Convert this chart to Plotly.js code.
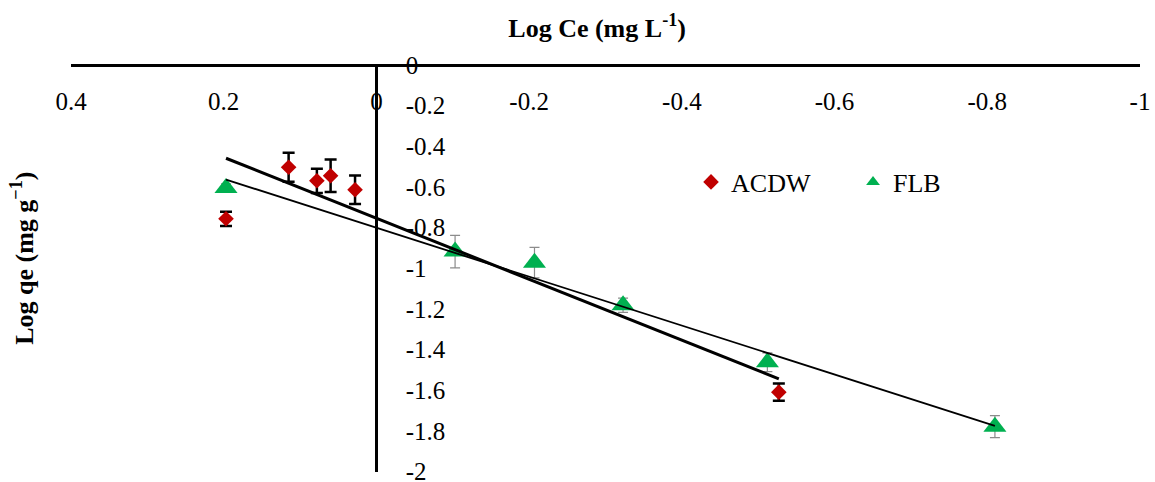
<!DOCTYPE html>
<html>
<head>
<meta charset="utf-8">
<script src="https://cdn.plot.ly/plotly-3.0.1.min.js"></script>
<style>
  html, body { margin: 0; padding: 0; background: #fff; }
  #chart { width: 1155px; height: 482px; }
</style>
</head>
<body>
<div id="chart"></div>
<script>
// Freundlich plot: log qe against log Ce for the two adsorbents
const acdwLogCe = [0.197, 0.115, 0.078, 0.060, 0.028, -0.527];
const acdwLogQe = [-0.757, -0.503, -0.570, -0.545, -0.614, -1.610];
const acdwErr   = [0.035, 0.071, 0.060, 0.080, 0.070, 0.042];

const flbLogCe = [0.197, -0.103, -0.207, -0.323, -0.512, -0.810];
const flbLogQe = [-0.605, -0.918, -0.973, -1.182, -1.463, -1.780];
const flbErr   = [0.020, 0.080, 0.075, 0.035, 0.046, 0.054];

const seriesNames = ['ACDW', 'FLB'];

const xTickVals   = [0.4, 0.2, 0, -0.2, -0.4, -0.6, -0.8, -1];
const xTickLabels = ['0.4', '0.2', '0', '-0.2', '-0.4', '-0.6', '-0.8', '-1'];
const yTickVals   = [0, -0.2, -0.4, -0.6, -0.8, -1, -1.2, -1.4, -1.6, -1.8, -2];
const yTickLabels = ['0', '-0.2', '-0.4', '-0.6', '-0.8', '-1', '-1.2', '-1.4', '-1.6', '-1.8', '-2'];

// least-squares linear trend over the span of the data
function trend(xs, ys) {
  const n = xs.length;
  const mx = xs.reduce((a, b) => a + b, 0) / n;
  const my = ys.reduce((a, b) => a + b, 0) / n;
  let sxy = 0, sxx = 0;
  for (let i = 0; i < n; i++) {
    sxy += (xs[i] - mx) * (ys[i] - my);
    sxx += (xs[i] - mx) * (xs[i] - mx);
  }
  const slope = sxy / sxx;
  const icpt = my - slope * mx;
  const x0 = Math.max(...xs), x1 = Math.min(...xs);
  return { x: [x0, x1], y: [icpt + slope * x0, icpt + slope * x1] };
}

const acdwFit = trend(acdwLogCe, acdwLogQe);
const flbFit = trend(flbLogCe, flbLogQe);

const FONT = 'Liberation Serif, Times New Roman, serif';

const traces = [
  {
    x: acdwLogCe, y: acdwLogQe, name: seriesNames[0], type: 'scatter', mode: 'markers',
    marker: { symbol: 'diamond', size: 12, color: '#C00000' },
    error_y: { type: 'data', array: acdwErr, visible: true, color: '#000000', thickness: 2.5, width: 6 }
  },
  {
    x: flbLogCe, y: flbLogQe, name: seriesNames[1], type: 'scatter', mode: 'markers',
    marker: { symbol: 'triangle-up', size: 20, color: '#00B050' },
    error_y: { type: 'data', array: flbErr, visible: true, color: '#8c8c8c', thickness: 1.2, width: 5 }
  },
  {
    x: acdwFit.x, y: acdwFit.y, type: 'scatter', mode: 'lines', showlegend: false, hoverinfo: 'skip',
    line: { color: '#000000', width: 3 }
  },
  {
    x: flbFit.x, y: flbFit.y, type: 'scatter', mode: 'lines', showlegend: false, hoverinfo: 'skip',
    line: { color: '#000000', width: 1.8 }
  }
];

const layout = {
  width: 1155, height: 482,
  margin: { l: 71, r: 15, t: 65, b: 10 },
  paper_bgcolor: '#ffffff', plot_bgcolor: '#ffffff',
  font: { family: FONT, size: 25, color: '#000000' },
  showlegend: true,
  title: {
    text: '<b>Log Ce (mg L<sup>-1</sup>)</b>',
    font: { family: FONT, size: 26, color: '#000000' },
    xref: 'container', x: 0.517, xanchor: 'center',
    yref: 'container', y: 0.942, yanchor: 'middle'
  },
  xaxis: {
    range: [0.4, -1],
    anchor: 'free', position: 1, side: 'bottom',
    showgrid: false, zeroline: false,
    showline: true, linecolor: '#000000', linewidth: 3,
    tickmode: 'array', tickvals: xTickVals, ticktext: xTickLabels,
    ticks: 'outside', ticklen: 13, tickcolor: 'rgba(0,0,0,0)',
    ticklabeloverflow: 'allow',
    tickfont: { family: FONT, size: 25, color: '#000000' }
  },
  yaxis: {
    range: [-2.003, 0],
    anchor: 'free', position: 0.4 / 1.4, side: 'right',
    showgrid: false, zeroline: false,
    showline: true, linecolor: '#000000', linewidth: 2.2,
    tickmode: 'array', tickvals: yTickVals, ticktext: yTickLabels,
    ticks: 'outside', ticklen: 23, tickcolor: 'rgba(0,0,0,0)',
    ticklabeloverflow: 'allow',
    tickfont: { family: FONT, size: 25, color: '#000000' }
  },
  legend: {
    orientation: 'h', x: 0.58, xanchor: 'left', y: 0.7125, yanchor: 'middle',
    bgcolor: 'rgba(0,0,0,0)', font: { family: FONT, size: 26, color: '#000000' },
    itemsizing: 'constant', entrywidth: 117, entrywidthmode: 'pixels'
  },
  annotations: [
    {
      text: '<b>Log qe (mg g<sup>−1</sup>)</b>', textangle: -90,
      xref: 'paper', x: -0.045, xanchor: 'center',
      yref: 'paper', y: 0.526, yanchor: 'middle',
      showarrow: false, font: { family: FONT, size: 26, color: '#000000' }
    }
  ]
};

Plotly.newPlot('chart', traces, layout, { displayModeBar: false, staticPlot: true });
</script>
</body>
</html>
